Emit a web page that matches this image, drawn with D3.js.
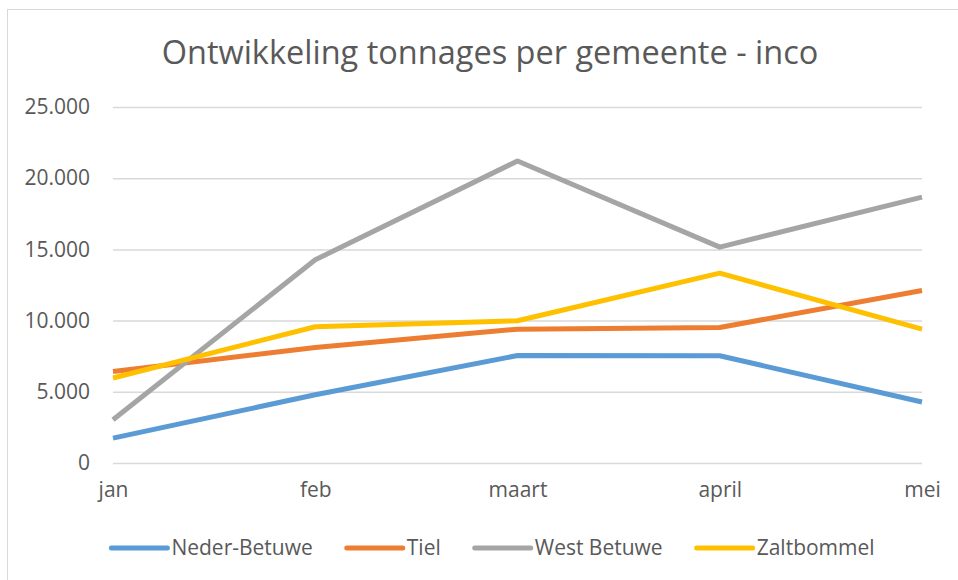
<!DOCTYPE html>
<html>
<head>
<meta charset="utf-8">
<script src="https://cdn.jsdelivr.net/npm/d3@7"></script>
<style>
    body { margin: 0; background: #fff; }
    text { font-family: "Open Sans", sans-serif; fill: #595959; }
</style>
</head>
<body>
<script>
(function() {

    var months = ['jan', 'feb', 'maart', 'april', 'mei']; //categories

    var nederBetuwe = [1750, 4790, 7550, 7530, 4280];
    var tiel = [6430, 8110, 9400, 9520, 12110];
    var westBetuwe = [3040, 14270, 21210, 15160, 18670];
    var zaltbommel = [5970, 9570, 9990, 13330, 9400];

    var seriesNames = ['Neder-Betuwe', 'Tiel', 'West Betuwe', 'Zaltbommel'];
    var seriesValues = [nederBetuwe, tiel, westBetuwe, zaltbommel];
    var colours = ['#5B9BD5', '#ED7D31', '#A5A5A5', '#FFC000'];

    var yTicks = [0, 5000, 10000, 15000, 20000, 25000];

    var width = 958, height = 580;

    var svg = d3.select('body').append('svg') //main container
        .attr('width', width)
        .attr('height', height);

    // chart border, runs off the right and bottom edge like the screenshot
    svg.append('rect')
        .attr('x', 7.5)
        .attr('y', 9.5)
        .attr('width', 1000)
        .attr('height', 1000)
        .attr('fill', 'none')
        .attr('stroke', '#D9D9D9')
        .attr('stroke-width', 1);

    svg.append('text')
        .attr('x', 490)
        .attr('y', 64)
        .attr('text-anchor', 'middle')
        .style('font-size', '32.5px')
        .text('Ontwikkeling tonnages per gemeente - inco');

    var x = d3.scalePoint()
        .domain(months)
        .range([113, 922]);

    var y = d3.scaleLinear()
        .domain([0, 25000])
        .range([463, 107]);

    var fmt = function(d) { //dutch thousands separator
        return d3.format(',')(d).replace(/,/g, '.');
    };

    // gridlines + y labels
    var yAxis = svg.append('g')
        .attr('transform', 'translate(113,0)')
        .call(d3.axisLeft(y).tickValues(yTicks).tickFormat(fmt).tickSize(-(922 - 113)).tickPadding(23));

    yAxis.select('.domain').remove();
    yAxis.selectAll('line').attr('stroke', '#D9D9D9').attr('stroke-width', 1.5);
    yAxis.selectAll('text').style('font-size', '21px').attr('fill', '#595959');

    // month labels
    var xAxis = svg.append('g')
        .attr('transform', 'translate(0,463)')
        .call(d3.axisBottom(x).tickSize(0).tickPadding(19));

    xAxis.select('.domain').remove();
    xAxis.selectAll('text').style('font-size', '21px').attr('fill', '#595959');

    var line = d3.line()
        .x(function(d, i) { return x(months[i]); })
        .y(function(d) { return y(d); });

    svg.selectAll('path.series')
        .data(seriesValues)
        .enter().append('path')
        .attr('class', 'series')
        .attr('d', line)
        .attr('fill', 'none')
        .attr('stroke', function(d, i) { return colours[i]; })
        .attr('stroke-width', 5)
        .attr('stroke-linejoin', 'round');

    // legend, laid out from measured text widths
    var legend = svg.append('g');
    var items = legend.selectAll('g')
        .data(seriesNames)
        .enter().append('g');

    items.append('line')
        .attr('x1', 0).attr('x2', 56)
        .attr('y1', 548).attr('y2', 548)
        .attr('stroke', function(d, i) { return colours[i]; })
        .attr('stroke-width', 5)
        .attr('stroke-linecap', 'round');

    items.append('text')
        .attr('x', 60)
        .attr('y', 555)
        .style('font-size', '21px')
        .text(function(d) { return d; });

    var pos = 0;
    items.each(function() {
        var g = d3.select(this);
        g.attr('transform', 'translate(' + pos + ',0)');
        pos += 60 + g.select('text').node().getComputedTextLength() + 34;
    });
    var total = pos - 34;
    legend.attr('transform', 'translate(' + (493 - total / 2) + ',0)');

})();
</script>
</body>
</html>
